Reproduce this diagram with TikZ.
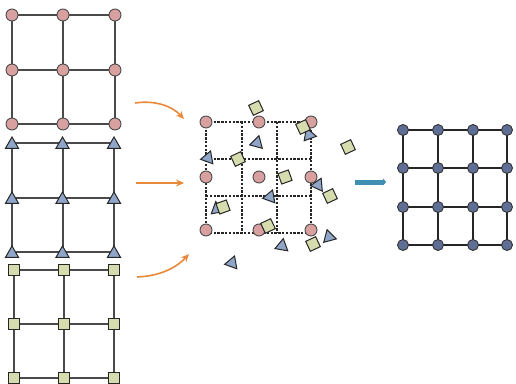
\documentclass[tikz,border=0pt]{standalone}
\usetikzlibrary{shapes.geometric,arrows.meta}
\definecolor{cpink}{HTML}{D9A0A0}
\definecolor{ctri}{HTML}{8FA6C8}
\definecolor{csq}{HTML}{D6DCAE}
\definecolor{cdot}{HTML}{5E6E94}
\definecolor{cline}{HTML}{4A4A4A}
\definecolor{corange}{HTML}{E8893A}
\definecolor{cblue}{HTML}{3F8FB2}
\tikzset{
  gridline/.style={draw=cline,line width=2pt},
  dashline/.style={draw=black!85,line width=1.3pt,dash pattern=on 2.4pt off 1.4pt},
  circ/.style={circle,draw=black!70,line width=0.9pt,fill=cpink,minimum size=12pt,inner sep=0pt},
  tri/.style={regular polygon,regular polygon sides=3,draw=black!85,line width=1pt,fill=ctri,minimum size=15pt,inner sep=0pt},
  sqr/.style={rectangle,draw=black!85,line width=1pt,fill=csq,minimum size=11pt,inner sep=0pt},
  dot/.style={circle,draw=black!80,line width=0.9pt,fill=cdot,minimum size=11pt,inner sep=0pt},
  darrow/.style={draw=corange,line width=1.6pt,-{Stealth[length=8pt,width=7pt]}},
  barrow/.style={draw=cblue,line width=5pt,-{Triangle[length=3pt,width=7pt]}}
}
\begin{document}
\begin{tikzpicture}[x=1pt,y=-1pt]
\useasboundingbox (0,0) rectangle (516,383);
% ---------- left grids ----------
\foreach \i/\x in {1/12,2/63,3/115}{
  \foreach \j/\y in {1/15,2/70,3/124}{
    \coordinate (ca\i\j) at (\x,\y);
    \coordinate (ta\i\j) at (\x-0.5*\i+0.5,\y+128);
    \coordinate (sa\i\j) at (\x+2-1.5*\i+1.5,\y+255-0.5*\j);
  }}
\foreach \a in {ca,ta,sa}{
  \foreach \i in {1,2,3}{
    \draw[gridline] (\a\i1) -- (\a\i2) -- (\a\i3);
    \draw[gridline] (\a1\i) -- (\a2\i) -- (\a3\i);
  }}
\foreach \i in {1,2,3}{
  \foreach \j in {1,2,3}{
    \node[circ] (nc\i\j) at (ca\i\j) {};
    \node[tri] (nt\i\j) at ([yshift=-1.5pt]ta\i\j) {};
    \node[sqr] (ns\i\j) at (sa\i\j) {};
  }}
% ---------- middle dashed grid ----------
\foreach \i/\x in {1/206,2/242,3/277,4/311}{
  \coordinate (vt\i) at (\x,122);
  \coordinate (vb\i) at (\x,233);
}
\foreach \j/\y in {1/122,2/159,3/196,4/233}{
  \coordinate (hl\j) at (206,\y);
  \coordinate (hr\j) at (311,\y);
}
\foreach \i in {1,2,3,4}{
  \draw[dashline] (vt\i) -- (vb\i);
  \draw[dashline] (hl\i) -- (hr\i);
}
\foreach \p/\x/\y in {1/206/122,2/259/122,3/311/122,4/206/177,5/259/177,6/311/177,7/206/230,8/259/230,9/311/230}{
  \node[circ] (mc\p) at (\x,\y) {};
}
\foreach \p/\x/\y/\r in {1/257/143/-15,2/309/135/20,3/208/158/-20,4/318/185/-25,5/270/197/-20,6/217/209/10,7/329/237/15,8/282/246/-10,9/232/263/-20}{
  \node[tri,rotate=\r] (mt\p) at (\x,\y) {};
}
\foreach \p/\x/\y/\r in {1/256/108/25,2/303/127/25,3/238/159/25,4/285/177/20,5/348/147/25,6/330/196/25,7/223/207/20,8/268/226/25,9/313/244/25}{
  \node[sqr,rotate=\r] (ms\p) at (\x,\y) {};
}
% ---------- arrows ----------
\coordinate (a1s) at (135,103);
\coordinate (a1e) at (184,119);
\coordinate (a2s) at (136,183);
\coordinate (a2e) at (184,183);
\coordinate (a3s) at (137,277);
\coordinate (a3e) at (189,254);
\draw[darrow] (a1s) .. controls (155,100) and (172,106) .. (a1e);
\draw[darrow] (a2s) -- (a2e);
\draw[darrow] (a3s) .. controls (160,276) and (176,268) .. (a3e);
\coordinate (bs) at (355,182);
\coordinate (be) at (386,182);
\draw[barrow] (bs) -- (be);
% ---------- right grid ----------
\foreach \i/\x in {1/403,2/438,3/473,4/507}{
  \foreach \j/\y in {1/130,2/168,3/207,4/245}{
    \coordinate (r\i\j) at (\x,\y);
  }}
\foreach \i in {1,2,3,4}{
  \draw[gridline,draw=black!85] (r\i1) -- (r\i2) -- (r\i3) -- (r\i4);
  \draw[gridline,draw=black!85] (r1\i) -- (r2\i) -- (r3\i) -- (r4\i);
}
\foreach \i in {1,2,3,4}{
  \foreach \j in {1,2,3,4}{
    \node[dot] (nr\i\j) at (r\i\j) {};
  }}
\end{tikzpicture}
\end{document}
